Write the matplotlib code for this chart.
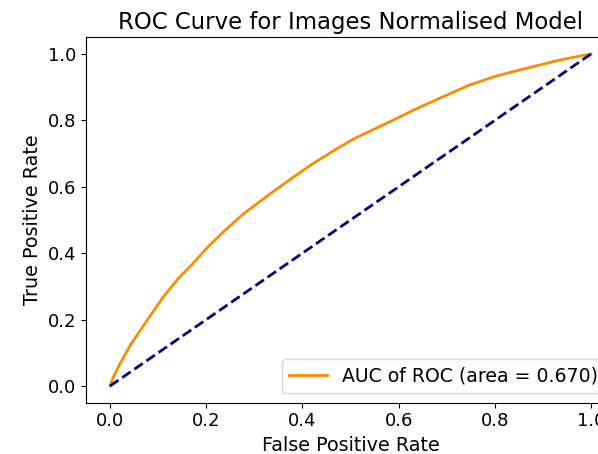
import numpy as np
import matplotlib
matplotlib.use("Agg")
import matplotlib.pyplot as plt

fpr = [0.0, 0.007, 0.021, 0.042, 0.066, 0.087, 0.111, 0.142, 0.173, 0.201,
       0.236, 0.277, 0.319, 0.353, 0.388, 0.423, 0.471, 0.506, 0.547, 0.589,
       0.631, 0.686, 0.748, 0.804, 0.852, 0.894, 0.936, 0.977, 1.0]
tpr = [0.0, 0.028, 0.068, 0.123, 0.174, 0.219, 0.269, 0.324, 0.370, 0.415,
       0.465, 0.518, 0.564, 0.600, 0.636, 0.671, 0.714, 0.744, 0.772, 0.801,
       0.831, 0.867, 0.907, 0.934, 0.952, 0.967, 0.982, 0.994, 1.0]
auc_label = "AUC of ROC (area = 0.670)"

fig = plt.figure(figsize=(5.98, 4.54), dpi=100)
# eixo mais largo que a figura (original cortado a direita)
ax = fig.add_axes([86 / 598, 1 - 402.6 / 454, 529 / 598, 365.2 / 454])

ax.plot(fpr, tpr, color="darkorange", lw=2, label=auc_label)
ax.plot([0, 1], [0, 1], color="navy", lw=2, linestyle="--")

ax.set_xlabel("False Positive Rate", fontsize=13.8)
ax.set_ylabel("True Positive Rate", fontsize=13.8)
ax.set_title("ROC Curve for Images Normalised Model", fontsize=16.4)
ax.tick_params(labelsize=13)
ax.legend(loc="lower right", fontsize=13.6)

fig.savefig("out.png", dpi=100)
